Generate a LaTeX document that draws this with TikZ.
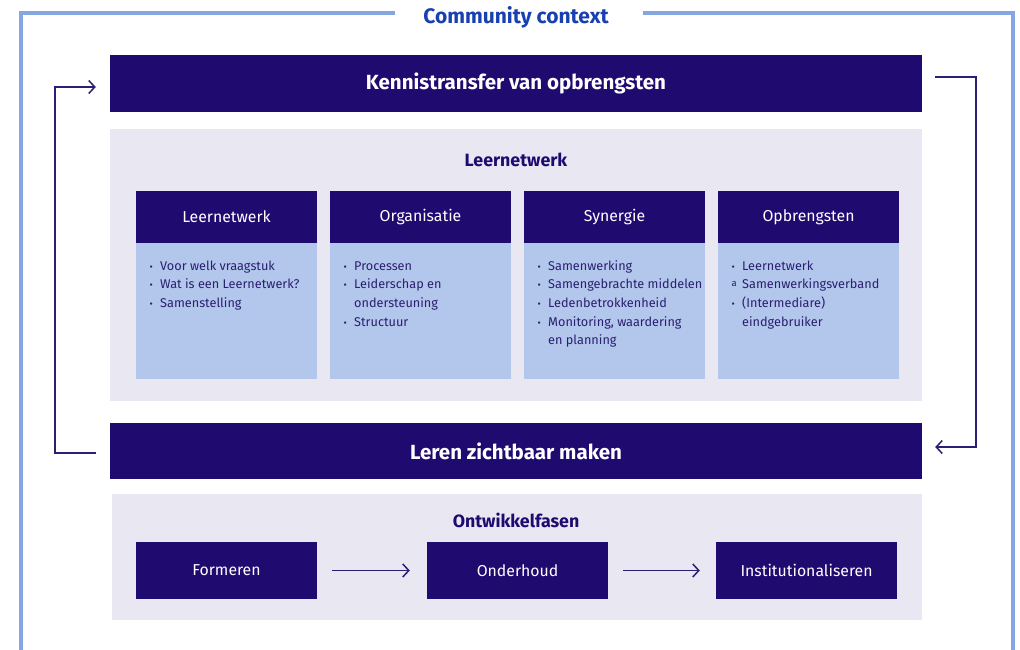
\documentclass[tikz,border=0pt]{standalone}
\usepackage{fontspec}
\setmainfont{Fira Sans}
\usetikzlibrary{arrows.meta}
\definecolor{navy}{HTML}{1F0A70}
\definecolor{panelc}{HTML}{E8E7F2}
\definecolor{bodyc}{HTML}{B3C6EC}
\definecolor{framec}{HTML}{86A6E2}
\definecolor{ink}{HTML}{2A1F70}
\definecolor{ttl}{HTML}{1840B0}
\newcommand{\bl}{{\fontsize{10}{10}\selectfont •}}
\newcommand{\bla}{\raisebox{2.5pt}{\fontsize{9.5}{9.5}\selectfont a}}
\begin{document}
\begin{tikzpicture}[x=1pt,y=-1pt,
  bar/.style={fill=navy,draw=none,minimum width=812pt,minimum height=57pt,text=white,font=\fontsize{20.5}{24}\selectfont\bfseries,inner sep=0pt},
  panel/.style={fill=panelc,draw=none,inner sep=0pt},
  head/.style={fill=navy,draw=none,minimum width=181pt,minimum height=52pt,text=white,font=\fontsize{15.8}{18}\selectfont,inner sep=0pt},
  bodybox/.style={fill=bodyc,draw=none,minimum width=181pt,minimum height=136pt,inner sep=0pt},
  phase/.style={fill=navy,draw=none,minimum width=181pt,minimum height=57pt,text=white,font=\fontsize{15.8}{18}\selectfont,inner sep=0pt},
  bul/.style={anchor=base west,inner sep=0pt,text=ink,font=\fontsize{12.7}{18.7}\selectfont,align=left},
  ptitle/.style={text=navy,font=\fontsize{17.8}{20}\selectfont\bfseries,inner sep=0pt},
  conn/.style={draw=ink,line width=1.5pt,arrows={-Straight Barb[length=6pt,width=13pt,line width=1.5pt]}}
]
\useasboundingbox (0,0) rectangle (1020,650);
\fill[white] (0,0) rectangle (1020,650);
% outer frame
\draw[framec,line width=4pt] (395,13) -- (21,13) -- (21,660);
\draw[framec,line width=4pt] (643,13) -- (1013,13) -- (1013,660);
\node[text=ttl,font=\fontsize{21}{24}\selectfont\bfseries,inner sep=0pt] (ctx) at (516,17.5) {Community context};

% top bar
\node[bar] (kt) at (516,83.5) {Kennistransfer van opbrengsten};
% panel 1
\node[panel,minimum width=812pt,minimum height=272pt] (p1) at (516,265) {};
\node[ptitle] (p1t) at (516,160) {Leernetwerk};
\node[head] (h1) at (226.5,217) {Leernetwerk};
\node[head] (h2) at (420.5,217) {Organisatie};
\node[head] (h3) at (614.5,217) {Synergie};
\node[head] (h4) at (808.5,217) {Opbrengsten};
\node[bodybox] (b1) at (226.5,311) {};
\node[bodybox] (b2) at (420.5,311) {};
\node[bodybox] (b3) at (614.5,311) {};
\node[bodybox] (b4) at (808.5,311) {};
\node[bul] (t1) at (149.5,270) {\begin{tabular}[t]{@{}p{10.5pt}@{}l@{}}\bl & Voor welk vraagstuk\\ \bl & Wat is een Leernetwerk?\\ \bl & Samenstelling\end{tabular}};
\node[bul] (t2) at (343.5,270) {\begin{tabular}[t]{@{}p{10.5pt}@{}l@{}}\bl & Processen\\ \bl & Leiderschap en\\ & ondersteuning\\ \bl & Structuur\end{tabular}};
\node[bul] (t3) at (537.5,270) {\begin{tabular}[t]{@{}p{10.5pt}@{}l@{}}\bl & Samenwerking\\ \bl & Samengebrachte middelen\\ \bl & Ledenbetrokkenheid\\ \bl & Monitoring, waardering\\ & en planning\end{tabular}};
\node[bul] (t4) at (731.5,270) {\begin{tabular}[t]{@{}p{10.5pt}@{}l@{}}\bl & Leernetwerk\\ \bla & Samenwerkingsverband\\ \bl & (Intermediare)\\ & eindgebruiker\end{tabular}};

% bottom bar
\node[bar,minimum height=56pt] (lz) at (516,451) {Leren zichtbaar maken};
% panel 2
\node[panel,minimum width=810pt,minimum height=126pt] (p2) at (517,557) {};
\node[ptitle] (p2t) at (516,520) {Ontwikkelfasen};
\node[phase] (f1) at (226.5,570.5) {Formeren};
\node[phase] (f2) at (517.5,570.5) {Onderhoud};
\node[phase] (f3) at (806.5,570.5) {Institutionaliseren};
\draw[conn] ([xshift=15pt]f1.east) -- ([xshift=-17pt]f2.west);
\draw[conn] ([xshift=15pt]f2.east) -- ([xshift=-16pt]f3.west);

% loops
\coordinate (lx) at (55,0);
\coordinate (rx) at (976,0);
\coordinate (ls) at ([xshift=-14pt,yshift=-2pt]lz.west);
\coordinate (le) at ([xshift=-14pt,yshift=-3.5pt]kt.west);
\draw[conn] (ls) -- (ls -| lx) -- (le -| lx) -- (le);
\coordinate (rs) at ([xshift=13pt,yshift=6.5pt]kt.east);
\coordinate (re) at ([xshift=13pt,yshift=4pt]lz.east);
\draw[conn] (rs) -- (rs -| rx) -- (re -| rx) -- (re);
\end{tikzpicture}
\end{document}
